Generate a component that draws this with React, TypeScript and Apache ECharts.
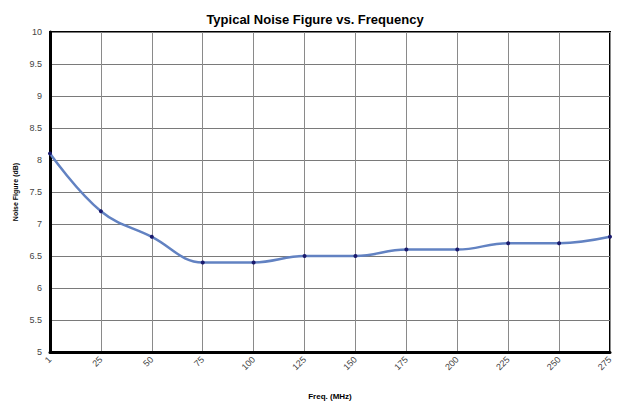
import React, { useEffect, useRef } from "react";
import * as echarts from "echarts";

const categories = ["1", "25", "50", "75", "100", "125", "150", "175", "200", "225", "250", "275"];
const noiseFigure = [8.1, 7.2, 6.8, 6.4, 6.4, 6.5, 6.5, 6.6, 6.6, 6.7, 6.7, 6.8];

export default function App() {
  const ref = useRef<HTMLDivElement>(null);
  useEffect(() => {
    if (!ref.current) return;
    const chart = echarts.init(ref.current, undefined, { renderer: "svg" });
    chart.setOption({
      animation: false,
      backgroundColor: "#ffffff",
      title: {
        text: "Typical Noise Figure vs. Frequency",
        left: 310,
        textAlign: "center",
        top: 8,
        textStyle: { fontFamily: "Liberation Sans, Arial, sans-serif", fontSize: 13, fontWeight: "bold", color: "#000" },
      },
      grid: {
        left: 50,
        right: 21,
        top: 32,
        bottom: 61,
        show: true,
        borderColor: "#000",
        borderWidth: 2,
        outerBoundsMode: "none",
        containLabel: false,
      },
      xAxis: {
        type: "category",
        data: categories,
        boundaryGap: false,
        name: "Freq. (MHz)",
        nameLocation: "middle",
        nameGap: 40,
        nameTextStyle: { fontFamily: "Liberation Sans, Arial, sans-serif", fontSize: 8, fontWeight: "bold", color: "#000" },
        axisLine: { lineStyle: { color: "#000", width: 3 } },
        axisTick: { show: false },
        axisLabel: { rotate: 45, fontSize: 9, color: "#444", margin: 6, fontFamily: "Liberation Sans, Arial, sans-serif" },
        splitLine: { show: true, lineStyle: { color: "#8a8a8a", width: 1 } },
      },
      yAxis: {
        type: "value",
        min: 5,
        max: 10,
        interval: 0.5,
        name: "Noise Figure (dB)",
        nameLocation: "middle",
        nameGap: 30,
        nameRotate: 90,
        nameTextStyle: { fontFamily: "Liberation Sans, Arial, sans-serif", fontSize: 7, fontWeight: "bold", color: "#000" },
        axisLine: { show: true, lineStyle: { color: "#000", width: 3 } },
        axisTick: { show: false },
        axisLabel: { fontSize: 9, color: "#444", margin: 8, fontFamily: "Liberation Sans, Arial, sans-serif" },
        splitLine: { show: true, lineStyle: { color: "#7a7a7a", width: 1 } },
      },
      series: [
        {
          type: "line",
          data: noiseFigure,
          smooth: 0.4,
          symbol: "circle",
          symbolSize: 4,
          itemStyle: { color: "#1a1a6e" },
          lineStyle: { color: "#6282c2", width: 2.5 },
        },
      ],
    });
    return () => chart.dispose();
  }, []);
  return <div ref={ref} style={{ width: 631, height: 413, position: "absolute", left: 0, top: 0 }} />;
}
